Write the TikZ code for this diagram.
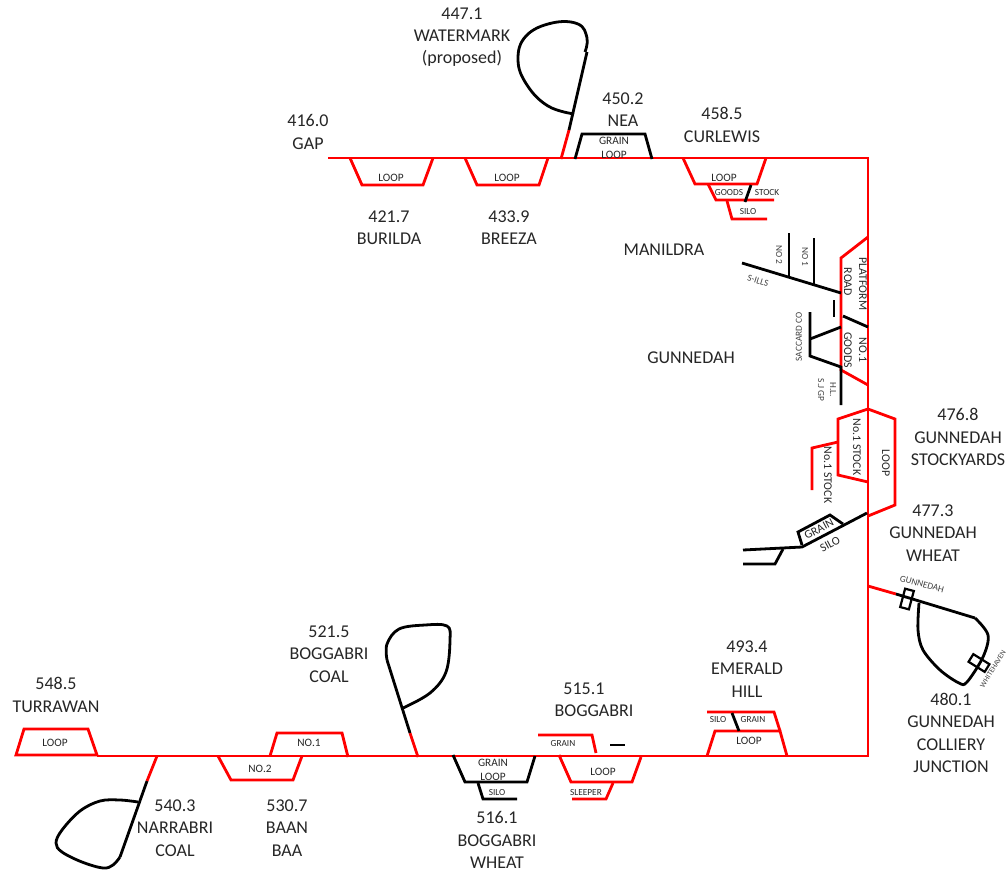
\documentclass[tikz,border=0pt]{standalone}
\usepackage{fontspec}
\setmainfont{Carlito}
\usepackage{xcolor}
\usetikzlibrary{positioning, calc}

\begin{document}
\begin{tikzpicture}[
        x=1pt, y=-1pt,
        redline/.style={draw=red, line width=2.8pt, line join=miter},
        blackline/.style={draw=black, line width=2.8pt, line join=miter},
        place/.style={font=\fontsize{18}{22.3}\selectfont, align=center, text=black!85, inner sep=0pt},
        small/.style={font=\fontsize{11.3}{14}\selectfont, align=center, text=black!85, inner sep=0pt},
        tiny/.style={font=\fontsize{9.3}{11}\selectfont, align=center, text=black!85, inner sep=0pt},
        sideways/.style={font=\fontsize{11.8}{14}\selectfont, align=center, text=black!85, inner sep=0pt},
        faint/.style={font=\fontsize{9.3}{11}\selectfont, align=center, text=black!75, inner sep=0pt},
        signal/.style={draw=black, line width=2.2pt, rectangle, minimum width=9pt, minimum height=19pt, inner sep=0pt, fill=none},
    ]
    \useasboundingbox (0,0) rectangle (1008,871);

    % === MAIN LINE ===
    \draw[redline] (328,158) -- (868,158) -- (868,756) -- (97,756);

    % === TOP ROW ===
    \draw[redline] (350,158) -- (362,185) -- (423,185) -- (433,158);
    \draw[redline] (465,158) -- (477,185) -- (539,185) -- (548,158);
    \draw[redline] (561,159) -- (569,130);
    \draw[blackline] (569,130) -- (587,52);
    \draw[blackline] plot[smooth, tension=0.7] coordinates {(574,114) (548,106) (527,85) (518,60) (526,36) (552,23) (578,24) (587,38) (585,52)};
    \draw[blackline] (575,159) -- (582,134) -- (645,134) -- (652,159);

    % Curlewis
    \draw[redline] (683,158) -- (695,184) -- (757,184) -- (766,158);
    \draw[redline] (708,184) -- (716,200) -- (774,200);
    \draw[redline] (727,201) -- (732,219) -- (767,219);
    \draw[blackline] (751,185) -- (745,202);

    % === GUNNEDAH YARD ===
    \draw[redline] (868,237) -- (841,258) -- (841,370) -- (868,385);
    \draw[blackline] (742,263) -- (841,293);
    \draw[blackline] (789,233) -- (789,277);
    \draw[blackline] (814,238) -- (814,285);
    \draw[blackline] (834,300) -- (834,317);
    \draw[blackline] (843,316) -- (868,327);
    \draw[blackline] (841,327) -- (810,339);
    \draw[blackline] (810,312) -- (810,356) -- (841,367) -- (841,405);

    % === STOCKYARDS ===
    \draw[redline] (868,409) -- (838,419) -- (838,475) -- (868,482);
    \draw[redline] (868,409) -- (895,419) -- (895,505) -- (868,516);
    \draw[redline] (838,442) -- (812,448) -- (812,490);

    % === GUNNEDAH WHEAT ===
    \draw[blackline] (867,513) -- (802,547) -- (743,550);
    \draw[blackline] (802,545) -- (798,532) -- (830,515) -- (843,524);
    \draw[blackline] (783,549) -- (775,564) -- (743,564);

    % === COLLIERY JUNCTION ===
    \draw[redline] (868,586) -- (896,594);
    \draw[blackline] (896,594) -- (975,618);
    \draw[blackline] plot[smooth, tension=0.55] coordinates {(975,618) (988,635) (983,657) (967,682) (959,683) (940,670) (923,650) (918,630) (919,603)};
    \node[signal, rotate=-15] (sigone) at (907,599) {};
    \node[signal, rotate=58] (sigtwo) at (979,663) {};

    % === BOTTOM ROW ===
    % Emerald Hill
    \draw[redline] (707,756) -- (715,731) -- (780,731) -- (787,756);
    \draw[redline] (707,712) -- (774,712) -- (780,731);
    \draw[blackline] (732,713) -- (739,731);

    % Boggabri
    \draw[redline] (559,755) -- (571,782) -- (632,782) -- (641,757);
    \draw[redline] (613,783) -- (606,799) -- (572,799);
    \draw[redline] (538,735) -- (592,735) -- (596,753);
    \draw[blackline] (610,745) -- (625,745);

    % Boggabri wheat
    \draw[blackline] (453,755) -- (465,782) -- (527,782) -- (535,756);
    \draw[blackline] (478,783) -- (483,799) -- (517,799);

    % Boggabri coal
    \draw[redline] (410,733) -- (418,757);
    \draw[blackline] (387,660) -- (410,733);
    \draw[blackline] plot[smooth, tension=0.6] coordinates {(387,660) (387,644) (399,629) (425,625) (447,626) (450,640) (446,672) (430,693) (403,708)};

    % Baan Baa
    \draw[redline] (218,756) -- (231,780) -- (293,780) -- (302,756);
    \draw[redline] (270,756) -- (277,733) -- (342,733) -- (348,757);

    % Narrabri coal
    \draw[redline] (157,756) -- (147,781);
    \draw[blackline] (147,781) -- (120,857);
    \draw[blackline] plot[smooth, tension=0.6] coordinates {(138,802) (120,800) (100,801) (80,811) (62,830) (56,843) (62,852) (82,862) (103,868) (113,865) (120,857)};

    % Turrawan
    \draw[redline] (16,755) -- (24,729) -- (88,729) -- (97,755) -- cycle;

    % === STATION LABELS ===
    \node[place] (watermark) at (462,37) {447.1\\WATERMARK\\(proposed)};
    \node[place] (nea) at (623,110) {450.2\\NEA};
    \node[place] (curlewis) at (722,125) {458.5\\CURLEWIS};
    \node[place] (gap) at (308,132) {416.0\\GAP};
    \node[place] (burilda) at (389,228) {421.7\\BURILDA};
    \node[place] (breeza) at (509,228) {433.9\\BREEZA};
    \node[place] (manildra) at (664,250) {MANILDRA};
    \node[place] (gunnedah) at (691,358) {GUNNEDAH};
    \node[place] (stockyards) at (958,437) {476.8\\GUNNEDAH\\STOCKYARDS};
    \node[place] (wheat) at (933,533) {477.3\\GUNNEDAH\\WHEAT};
    \node[place] (colliery) at (951,733) {480.1\\GUNNEDAH\\COLLIERY\\JUNCTION};
    \node[place] (emerald) at (747,669) {493.4\\EMERALD\\HILL};
    \node[place] (bogkm) at (584,689) {515.1};
    \node[place] (boggabri) at (594,711) {BOGGABRI};
    \node[place] (boggcoal) at (329,654) {521.5\\BOGGABRI\\COAL};
    \node[place] (turrawan) at (56,695) {548.5\\TURRAWAN};
    \node[place] (narrabri) at (175,828) {540.3\\NARRABRI\\COAL};
    \node[place] (baanbaa) at (287,828) {530.7\\BAAN\\BAA};
    \node[place] (boggwheat) at (497,840) {516.1\\BOGGABRI\\WHEAT};

    % === TRACK LABELS ===
    \node[small] (burloop) at (391,178) {LOOP};
    \node[small] (breloop) at (507,178) {LOOP};
    \node[small] (neagrain) at (614,148) {GRAIN\\LOOP};
    \node[small] (curloop) at (724,178) {LOOP};
    \node[tiny] (curgoods) at (729,193) {GOODS};
    \node[tiny] (curstock) at (767,193) {STOCK};
    \node[tiny] (cursilo) at (748,212) {SILO};
    \node[small] (turloop) at (55,743) {LOOP};
    \node[small] (baanone) at (309,743) {NO.1};
    \node[small] (baantwo) at (260,769) {NO.2};
    \node[small] (wheatloop) at (493,770) {GRAIN\\LOOP};
    \node[tiny] (wheatsilo) at (497,792) {SILO};
    \node[tiny] (boggrain) at (563,743) {GRAIN};
    \node[small] (bogloop) at (603,772) {LOOP};
    \node[tiny] (bogsleeper) at (586,792) {SLEEPER};
    \node[tiny] (emsilo) at (718,719) {SILO};
    \node[tiny] (emgrain) at (753,719) {GRAIN};
    \node[small] (emloop) at (749,741) {LOOP};

    % Rotated labels
    \node[sideways, rotate=-90] (platform) at (863,284) {PLATFORM};
    \node[sideways, rotate=-90] (road) at (848,282) {ROAD};
    \node[sideways, rotate=-90] (yardone) at (863,350) {NO.1};
    \node[sideways, rotate=-90] (yardgoods) at (848,350) {GOODS};
    \node[faint, rotate=-90] (nosecond) at (779,255) {NO 2};
    \node[faint, rotate=-90] (nofirst) at (805,257) {NO 1};
    \node[faint, rotate=-17] (sills) at (758,281) {S-ILLS};
    \node[faint, rotate=90] (sideco) at (799,337) {SACCARD CO};
    \node[faint, rotate=-90] (sjgp) at (821,390) {S.J GP};
    \node[faint, rotate=-90] (hl) at (833,390) {H.L.};
    \node[sideways, rotate=-90] (stockone) at (857,447) {No.1 STOCK};
    \node[sideways, rotate=-90] (stocktwo) at (828,475) {No.1 STOCK};
    \node[sideways, rotate=-90] (yardloop) at (886,463) {LOOP};
    \node[sideways, rotate=28] (silograin) at (819,529) {GRAIN};
    \node[sideways, rotate=28] (silosilo) at (830,544) {SILO};
    \node[faint, rotate=-15] (gunn) at (922,584) {GUNNEDAH};
    \node[faint, rotate=58, font=\fontsize{7.5}{9}\selectfont] (whitehaven) at (993,669) {WHITEHAVEN};

\end{tikzpicture}
\end{document}
